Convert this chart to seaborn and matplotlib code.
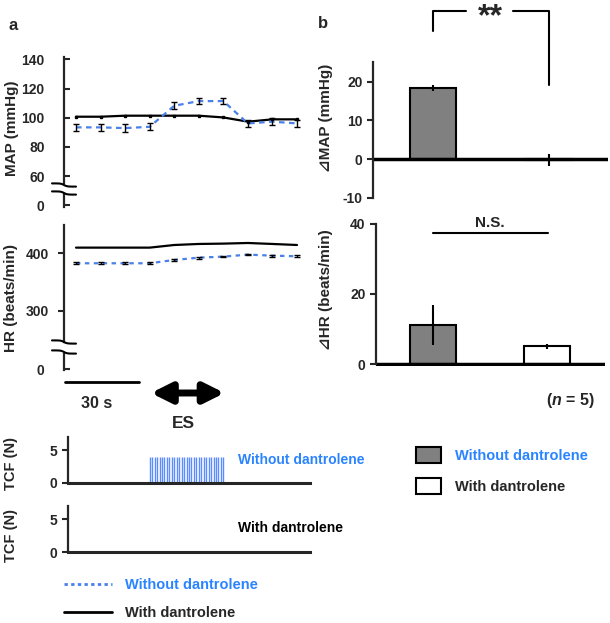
import matplotlib
matplotlib.use('Agg')
import matplotlib.pyplot as plt
from matplotlib.lines import Line2D
from matplotlib.patches import Patch
import seaborn as sns
import numpy as np

# 数据
time_s = [0, 10, 20, 30, 40, 50, 60, 70, 80, 90]
map_without = [93.4, 93.4, 92.9, 93.8, 108.2, 111.4, 111.4, 96.1, 97.3, 96.1]
map_without_sem = [2.3, 2.3, 2.5, 2.5, 2.5, 2.3, 2.3, 2.5, 2.3, 2.3]
map_with = [100.7, 100.7, 101.4, 101.4, 101.4, 101.4, 100.2, 97.3, 98.9, 98.9]
map_with_sem = [0.6, 0.6, 0.6, 0.6, 0.6, 0.6, 0.6, 0.6, 0.6, 0.6]
hr_without = [382.6, 382.6, 382.6, 382.6, 388.4, 392.4, 394.2, 397.7, 395.9, 394.8]
hr_without_sem = [1.5, 1.5, 1.5, 1.5, 1.5, 1.5, 1.5, 1.5, 1.5, 1.5]
hr_with = [409.9, 409.9, 409.9, 409.9, 414.5, 416.3, 416.9, 418.0, 416.3, 414.5]

# 肌肉收缩力 (ES 1 Hz, 30-60 s)
tcf_times = [30, 31, 32, 33, 34, 35, 36, 37, 38, 39, 40, 41, 42, 43, 44, 45,
             46, 47, 48, 49, 50, 51, 52, 53, 54, 55, 56, 57, 58, 59, 60]
tcf_force = [4.0, 4.0, 4.0, 4.0, 4.0, 4.0, 4.0, 4.0, 4.0, 4.0, 4.0, 4.0, 4.0, 4.0, 4.0, 4.0,
             4.0, 4.0, 4.0, 4.0, 4.0, 4.0, 4.0, 4.0, 4.0, 4.0, 4.0, 4.0, 4.0, 4.0, 4.0]

groups = ['Without dantrolene', 'With dantrolene']
dmap = [18.3, -0.3]
dmap_sem = [0.8, 1.5]
dhr = [11.1, 5.0]
dhr_sem = [5.7, 0.8]

BLUE_LINE = '#4a80ea'
BLUE_TEXT = '#2b84ff'
GRAY = '#808080'

sns.set_style('ticks')
plt.rcParams['font.family'] = ['Liberation Sans', 'DejaVu Sans']
plt.rcParams['font.weight'] = 'bold'
plt.rcParams['axes.labelweight'] = 'bold'
plt.rcParams['axes.linewidth'] = 1.6
plt.rcParams['axes.unicode_minus'] = False
plt.rcParams['xtick.major.width'] = 1.5
plt.rcParams['ytick.major.width'] = 1.5
plt.rcParams['ytick.major.size'] = 4
plt.rcParams['ytick.labelsize'] = 10
plt.rcParams['mathtext.fontset'] = 'custom'
plt.rcParams['mathtext.it'] = 'Liberation Sans:italic:bold'
plt.rcParams['mathtext.rm'] = 'Liberation Sans:bold'

W, H = 610, 623
fig = plt.figure(figsize=(W / 100, H / 100), dpi=100)


def px_axes(left, top, right, bottom):
    return fig.add_axes([left / W, 1 - bottom / H, (right - left) / W, (bottom - top) / H])


def tlim(left, right):
    # 像素 -> 时间 (0 s 在 76 px, 每秒 2.456 px)
    return ((left - 76) / 2.456, (right - 76) / 2.456)


def only_left(ax):
    for s in ['top', 'right', 'bottom']:
        ax.spines[s].set_visible(False)
    ax.set_xticks([])


def break_mark(x0, x1, y):
    xs = np.linspace(x0, x1, 20)
    ys = y + 1.6 * np.tanh((xs - (x0 + x1) / 2) / 3)
    fig.add_artist(Line2D(xs / W, 1 - ys / H, transform=fig.transFigure, color='k', lw=1.5))


def fig_text(x, y, s, **kw):
    fig.text(x / W, 1 - y / H, s, **kw)


# ---- a: MAP ----
ax = px_axes(64, 57, 310, 183)
sns.lineplot(x=time_s, y=map_with, ax=ax, color='k', lw=1.6)
ax.errorbar(time_s, map_with, yerr=map_with_sem, fmt='s', ms=2, color='k', elinewidth=1, capsize=0)
sns.lineplot(x=time_s, y=map_without, ax=ax, color=BLUE_LINE, lw=1.6, linestyle=(0, (2.5, 2)))
ax.errorbar(time_s, map_without, yerr=map_without_sem, fmt='none', ecolor='k', elinewidth=1,
            capsize=2, capthick=1)
ax.set_xlim(*tlim(64, 310))
ax.set_ylim(55.3, 141.6)
ax.set_yticks([60, 80, 100, 120, 140])
ax.tick_params(axis='y', direction='in', pad=14)
only_left(ax)

ax0 = px_axes(64, 194, 310, 207)
ax0.set_ylim(-0.15, 0.85)
ax0.set_yticks([0])
ax0.tick_params(axis='y', direction='in', pad=14)
only_left(ax0)
break_mark(52, 76, 185)
break_mark(52, 76, 193)

# ---- a: HR ----
ax = px_axes(64, 225, 310, 342)
sns.lineplot(x=time_s, y=hr_with, ax=ax, color='k', lw=1.6)
sns.lineplot(x=time_s, y=hr_without, ax=ax, color=BLUE_LINE, lw=1.6, linestyle=(0, (2, 2)))
ax.errorbar(time_s, hr_without, yerr=hr_without_sem, fmt='none', ecolor='k', elinewidth=1,
            capsize=2, capthick=1)
ax.set_xlim(*tlim(64, 310))
ax.set_ylim(245.2, 449.4)
ax.set_yticks([300, 400])
ax.tick_params(axis='y', pad=7)
only_left(ax)

ax0 = px_axes(64, 354, 310, 370)
ax0.set_ylim(-0.06, 0.94)
ax0.set_yticks([0])
ax0.tick_params(axis='y', direction='in', pad=14)
only_left(ax0)
break_mark(52, 76, 342)
break_mark(52, 76, 352)

# ---- 比例尺与 ES 箭头 ----
axd = px_axes(64, 372, 310, 432)
axd.set_xlim(*tlim(64, 310))
axd.set_ylim(432, 372)
axd.axis('off')
axd.plot([-4.5, 25.5], [382, 382], color='k', lw=2)
axd.text(8.2, 403, '30 s', ha='center', va='center', fontsize=11.5)
axd.annotate('', xy=(60.5, 393), xytext=(30.5, 393),
             arrowprops=dict(arrowstyle='<|-|>', lw=5, mutation_scale=30, color='k',
                             shrinkA=0, shrinkB=0))
axd.text(43.6, 423, 'ES', ha='center', va='center', fontsize=12.5)

# ---- TCF ----
for top, bottom, spikes, label_y in [(437, 483, True, 463), (506, 552, False, 536)]:
    ax = px_axes(68, top, 310, bottom)
    if spikes:
        ax.vlines(tcf_times, 0, tcf_force, colors='#5a8cff', lw=1.0)
    ax.set_xlim(*tlim(68, 310))
    ax.set_ylim(0, 7.0)
    ax.set_yticks([0, 5])
    ax.set_xticks([])
    ax.spines['top'].set_visible(False)
    ax.spines['right'].set_visible(False)
    ax.spines['bottom'].set_linewidth(2.2)
    fig_text(11, label_y, 'TCF (N)', rotation=90, ha='center', va='center', fontsize=10.5)

fig_text(238, 460, 'Without dantrolene', color=BLUE_TEXT, va='center', fontsize=10)
fig_text(238, 528, 'With dantrolene', color='k', va='center', fontsize=10)

# 轴标签
fig_text(12, 128, 'MAP (mmHg)', rotation=90, ha='center', va='center', fontsize=11)
fig_text(11, 298, 'HR (beats/min)', rotation=90, ha='center', va='center', fontsize=11)
fig_text(13, 25, 'a', ha='center', va='center', fontsize=12)
fig_text(323, 23, 'b', ha='center', va='center', fontsize=12)

# ---- b: ΔMAP ----
ax = px_axes(373, 8, 608, 202)
sns.barplot(x=groups, y=dmap, hue=groups, palette=[GRAY, 'white'], edgecolor='k', linewidth=1.5,
            width=0.4, errorbar=None, legend=False, ax=ax)
ax.errorbar([0, 1], dmap, yerr=dmap_sem, fmt='none', ecolor='k', elinewidth=1.5, capsize=0)
ax.axhline(0, color='k', lw=2.5)
ax.set_xlim(-0.52, 1.51)
ax.set_ylim(-11.1, 39.0)
ax.set_yticks([-10, 0, 10, 20])
ax.spines['left'].set_bounds(-10, 25)
only_left(ax)
ax.set_ylabel('')
ax.plot([0, 0, 0.28], [33.1, 38.3, 38.3], color='k', lw=1.5, clip_on=False)
ax.plot([0.69, 1, 1], [38.3, 38.3, 19.1], color='k', lw=1.5, clip_on=False)
ax.text(0.49, 36.5, '**', ha='center', va='center', fontsize=23)
fig_text(326, 118, '⊿MAP (mmHg)', rotation=90, ha='center', va='center', fontsize=11)

# ---- b: ΔHR ----
ax = px_axes(376, 220, 605, 366)
sns.barplot(x=groups, y=dhr, hue=groups, palette=[GRAY, 'white'], edgecolor='k', linewidth=1.5,
            width=0.41, errorbar=None, legend=False, ax=ax)
ax.errorbar([0, 1], dhr, yerr=dhr_sem, fmt='none', ecolor='k', elinewidth=1.5, capsize=0)
ax.axhline(0, color='k', lw=2.5)
ax.set_xlim(-0.5, 1.51)
ax.set_ylim(-0.57, 41.1)
ax.set_yticks([0, 20, 40])
ax.spines['left'].set_bounds(0, 40)
only_left(ax)
ax.set_ylabel('')
ax.plot([0, 1.01], [37.4, 37.4], color='k', lw=1.5)
ax.text(0.5, 38.3, 'N.S.', ha='center', va='bottom', fontsize=11)
fig_text(326, 290, '⊿HR (beats/min)', rotation=90, ha='center', va='center', fontsize=11)

fig_text(595, 401, '($n$ = 5)', ha='right', va='center', fontsize=11.5)

# ---- 图例 ----
leg = fig.legend(handles=[Patch(fc=GRAY, ec='k', lw=1.5), Patch(fc='white', ec='k', lw=1.5)],
                 labels=groups, loc='upper left', bbox_to_anchor=(416 / W, 1 - 447 / H),
                 frameon=False, handlelength=1.7, handleheight=1.3, labelspacing=1.05,
                 handletextpad=1.0, borderpad=0, borderaxespad=0, fontsize=10.5)
leg.get_texts()[0].set_color(BLUE_TEXT)

leg2 = fig.legend(handles=[Line2D([], [], color=BLUE_LINE, lw=2, linestyle=(0, (1.2, 1.2))),
                           Line2D([], [], color='k', lw=2)],
                  labels=groups, loc='upper left', bbox_to_anchor=(64 / W, 1 - 578 / H),
                  frameon=False, handlelength=3.3, labelspacing=0.95, handletextpad=0.9,
                  borderpad=0, borderaxespad=0, fontsize=10.5)
leg2.get_texts()[0].set_color(BLUE_TEXT)

fig.savefig('out.png', dpi=100)
